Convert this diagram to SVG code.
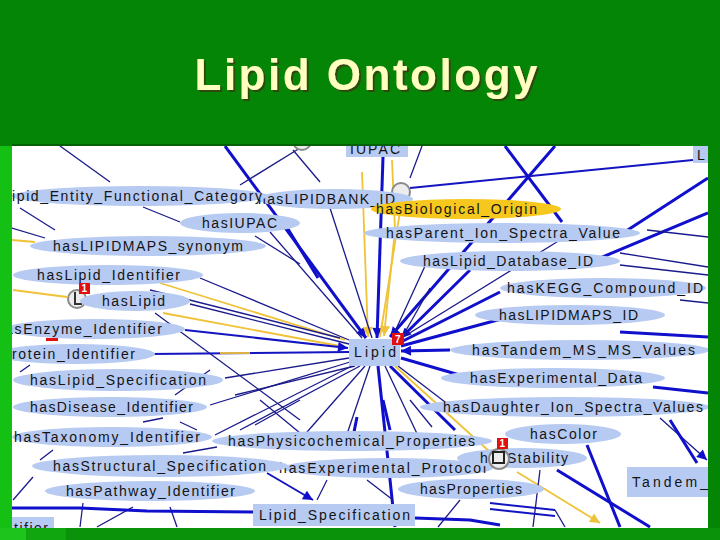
<svg xmlns="http://www.w3.org/2000/svg" width="720" height="540" viewBox="0 0 720 540">
<defs>
<style>
.e{fill:#b7caf2}
.yl{fill:#f6c81e}
.t{font-family:"Liberation Sans",Arial,sans-serif;font-size:14px;fill:#141414}
.n{stroke:#1a1a8c;stroke-width:1.3;fill:none}
.m{stroke:#1414c0;stroke-width:2;fill:none}
.b{stroke:#0f0fcc;stroke-width:3;fill:none}
.g{stroke:#f0c238;stroke-width:1.8;fill:none}
.ic{fill:#ececec;stroke:#8a8a8a;stroke-width:2}
.bd{fill:#e01010}
.bt{font-family:"Liberation Sans",Arial,sans-serif;font-size:10px;font-weight:bold;fill:#fff}
</style>
<filter id="sh" x="-5%" y="-20%" width="110%" height="140%"><feDropShadow dx="2" dy="2" stdDeviation="0.4" flood-color="#2e4a10" flood-opacity="1"/></filter>
<clipPath id="pc"><rect x="12" y="146" width="696" height="382"/></clipPath>
<marker id="ab" viewBox="0 0 10 10" refX="10" refY="5" markerWidth="12" markerHeight="10" markerUnits="userSpaceOnUse" orient="auto"><path d="M0,0 L10,5 L0,10 z" fill="#0f0fcc"/></marker>
<marker id="ay" viewBox="0 0 10 10" refX="10" refY="5" markerWidth="12" markerHeight="10" markerUnits="userSpaceOnUse" orient="auto"><path d="M0,0 L10,5 L0,10 z" fill="#f0c238"/></marker>
</defs>
<rect width="720" height="540" fill="#058505"/>
<rect x="0" y="146" width="12" height="394" fill="#14c014"/>
<rect x="0" y="528" width="26" height="12" fill="#1cc41c"/>
<rect x="26" y="528" width="40" height="12" fill="#10a610"/>
<rect x="66" y="528" width="654" height="12" fill="#0a930a"/>
<rect x="12" y="144" width="628" height="2" fill="#046004"/>
<text x="366" y="90" text-anchor="middle" font-family="Liberation Sans,Arial,sans-serif" font-size="44" font-weight="bold" fill="#ffffc0" textLength="343" lengthAdjust="spacing" filter="url(#sh)">Lipid Ontology</text>
<rect x="12" y="146" width="696" height="382" fill="#ffffff"/>

<g id="connectors" clip-path="url(#pc)">
<line class="b" x1="225" y1="146" x2="366" y2="338" marker-end="url(#ab)"/>
<line class="b" x1="383" y1="157" x2="377" y2="338" marker-end="url(#ab)"/>
<line class="b" x1="555" y1="146" x2="390" y2="337" marker-end="url(#ab)"/>
<line class="b" x1="505" y1="146" x2="562" y2="222"/>
<line class="m" x1="410" y1="188" x2="693" y2="160"/>
<line class="n" x1="410" y1="178" x2="422" y2="146"/>
<line class="n" x1="60" y1="146" x2="110" y2="182"/>
<line class="n" x1="240" y1="185" x2="300" y2="148"/>
<line class="n" x1="293" y1="150" x2="320" y2="182"/>
<line class="n" x1="20" y1="208" x2="55" y2="230"/>
<line class="n" x1="12" y1="228" x2="45" y2="238"/>
<line class="g" x1="12" y1="240" x2="35" y2="242"/>
<line class="n" x1="143" y1="207" x2="180" y2="222"/>
<line class="n" x1="255" y1="236" x2="300" y2="264"/>
<line class="b" x1="288" y1="229" x2="318" y2="278"/>
<line class="g" x1="392" y1="160" x2="395" y2="230"/>
<line class="g" x1="395" y1="230" x2="384" y2="336" marker-end="url(#ay)"/>
<line class="g" x1="362" y1="172" x2="368" y2="337" marker-end="url(#ay)"/>
<line class="g" x1="402" y1="199" x2="380" y2="337"/>
<line class="n" x1="270" y1="232" x2="362" y2="338"/>
<line class="n" x1="330" y1="208" x2="372" y2="338"/>

<line class="g" x1="13" y1="290" x2="67" y2="297"/>
<line class="n" x1="200" y1="278" x2="349" y2="340"/>
<line class="g" x1="160" y1="283" x2="345" y2="340"/>
<line class="n" x1="190" y1="304" x2="349" y2="344"/>
<line class="g" x1="163" y1="313" x2="345" y2="347"/>
<line class="m" x1="185" y1="330" x2="348" y2="348" marker-end="url(#ab)"/>
<line class="n" x1="150" y1="290" x2="340" y2="338"/>
<line class="n" x1="155" y1="313" x2="300" y2="420"/>
<line class="m" x1="150" y1="354" x2="349" y2="352"/>
<line class="g" x1="220" y1="353" x2="250" y2="353"/>
<line class="n" x1="225" y1="378" x2="349" y2="358"/>
<line class="n" x1="210" y1="405" x2="350" y2="362"/>
<line class="n" x1="215" y1="435" x2="352" y2="366"/>
<line class="n" x1="235" y1="395" x2="355" y2="366"/>
<line class="n" x1="20" y1="372" x2="30" y2="365"/>
<line class="n" x1="175" y1="395" x2="210" y2="370"/>

<line class="n" x1="425" y1="266" x2="392" y2="338"/>
<line class="b" x1="470" y1="270" x2="401" y2="338" marker-end="url(#ab)"/>
<line class="n" x1="560" y1="240" x2="400" y2="339"/>
<line class="b" x1="500" y1="292" x2="401" y2="342"/>
<line class="b" x1="505" y1="318" x2="401" y2="346"/>
<line class="b" x1="450" y1="350" x2="401" y2="351" marker-end="url(#ab)"/>
<line class="b" x1="470" y1="378" x2="401" y2="358"/>
<line class="n" x1="445" y1="402" x2="398" y2="366"/>
<line class="n" x1="430" y1="288" x2="400" y2="341"/>
<line class="b" x1="620" y1="235" x2="708" y2="178"/>
<line class="b" x1="600" y1="258" x2="708" y2="213"/>
<line class="n" x1="620" y1="253" x2="708" y2="267"/>
<line class="n" x1="647" y1="230" x2="708" y2="237"/>
<line class="n" x1="620" y1="265" x2="708" y2="275"/>
<line class="b" x1="620" y1="332" x2="708" y2="337"/>
<line class="b" x1="653" y1="387" x2="708" y2="393"/>
<line class="n" x1="680" y1="300" x2="708" y2="303"/>

<line class="b" x1="378" y1="366" x2="395" y2="527"/>
<line class="n" x1="370" y1="366" x2="345" y2="440"/>
<line class="n" x1="365" y1="366" x2="300" y2="440"/>
<line class="n" x1="385" y1="366" x2="420" y2="440"/>
<line class="b" x1="390" y1="366" x2="455" y2="430"/>
<line class="n" x1="360" y1="366" x2="240" y2="430"/>
<line class="g" x1="395" y1="366" x2="490" y2="452"/>
<line class="g" x1="517" y1="472" x2="600" y2="523" marker-end="url(#ay)"/>

<line class="n" x1="143" y1="422" x2="163" y2="418"/>
<line class="n" x1="180" y1="422" x2="197" y2="430"/>
<line class="n" x1="260" y1="400" x2="300" y2="433"/>
<line class="n" x1="300" y1="400" x2="255" y2="425"/>
<line class="b" x1="357" y1="417" x2="353" y2="437"/>
<line class="n" x1="183" y1="453" x2="217" y2="447"/>
<line class="n" x1="53" y1="450" x2="40" y2="460"/>
<line class="n" x1="33" y1="477" x2="13" y2="500"/>
<line class="m" x1="267" y1="473" x2="313" y2="500" marker-end="url(#ab)"/>
<line class="n" x1="327" y1="480" x2="317" y2="500"/>
<line class="n" x1="83" y1="503" x2="80" y2="527"/>
<line class="n" x1="133" y1="507" x2="97" y2="527"/>
<line class="n" x1="170" y1="507" x2="177" y2="527"/>
<polyline class="b" points="12,508 80,508 147,511 253,512"/>
<line class="n" x1="367" y1="480" x2="393" y2="500"/>
<line class="n" x1="410" y1="400" x2="432" y2="427"/>
<line class="b" x1="383" y1="400" x2="390" y2="430"/>

<polyline class="b" points="415,518 470,520 500,525"/>
<line class="m" x1="490" y1="503" x2="555" y2="510"/>
<line class="m" x1="490" y1="509" x2="555" y2="516"/>
<line class="n" x1="555" y1="510" x2="565" y2="527"/>
<line class="n" x1="540" y1="470" x2="533" y2="527"/>
<line class="n" x1="460" y1="500" x2="438" y2="527"/>
<line class="b" x1="587" y1="445" x2="620" y2="527"/>
<line class="b" x1="557" y1="470" x2="650" y2="527"/>
<line class="n" x1="660" y1="418" x2="707" y2="460" marker-end="url(#ab)"/>
<line class="b" x1="670" y1="420" x2="697" y2="463"/>
</g>

<g id="n_iupac" clip-path="url(#pc)"><rect class="e" x="346" y="140" width="62" height="17"/><text class="t" x="350" y="154" textLength="50" lengthAdjust="spacing">IUPAC</text></g>
<g id="n_L" clip-path="url(#pc)"><rect class="e" x="693" y="146" width="16" height="17"/><text class="t" x="697" y="160">L</text></g>
<g id="icon_top" clip-path="url(#pc)"><circle class="ic" cx="302" cy="141" r="9"/></g>
<g id="icon_bank" clip-path="url(#pc)"><circle class="ic" cx="401" cy="192" r="9"/></g>
<g id="n_lipidbank" clip-path="url(#pc)"><ellipse class="e" cx="335" cy="199" rx="78" ry="10"/><text class="t" x="258" y="204" textLength="137" lengthAdjust="spacing">hasLIPIDBANK_ID</text></g>
<g id="n_category" clip-path="url(#pc)"><ellipse class="e" cx="140" cy="196" rx="128" ry="10"/><text class="t" x="12" y="201" textLength="250" lengthAdjust="spacing">ipid_Entity_Functional_Category</text></g>
<g id="n_biological"><ellipse class="yl" cx="466" cy="209" rx="95" ry="10"/><text class="t" x="376" y="214" textLength="161" lengthAdjust="spacing">hasBiological_Origin</text></g>
<g id="n_hasiupac"><ellipse class="e" cx="240" cy="223" rx="60" ry="10"/><text class="t" x="202" y="228" textLength="75" lengthAdjust="spacing">hasIUPAC</text></g>
<g id="n_parent"><ellipse class="e" cx="502" cy="233" rx="138" ry="10"/><text class="t" x="386" y="238" textLength="234" lengthAdjust="spacing">hasParent_Ion_Spectra_Value</text></g>
<g id="n_synonym"><ellipse class="e" cx="148" cy="246" rx="118" ry="10"/><text class="t" x="53" y="251" textLength="190" lengthAdjust="spacing">hasLIPIDMAPS_synonym</text></g>
<g id="n_database"><ellipse class="e" cx="510" cy="261" rx="110" ry="10"/><text class="t" x="423" y="266" textLength="170" lengthAdjust="spacing">hasLipid_Database_ID</text></g>
<g id="n_lipidid" clip-path="url(#pc)"><ellipse class="e" cx="108" cy="275" rx="95" ry="10"/><text class="t" x="37" y="280" textLength="143" lengthAdjust="spacing">hasLipid_Identifier</text></g>
<g id="n_kegg" clip-path="url(#pc)"><ellipse class="e" cx="603" cy="288" rx="103" ry="10"/><text class="t" x="507" y="293" textLength="196" lengthAdjust="spacing">hasKEGG_Compound_ID</text></g>
<g id="icon_L"><circle class="ic" cx="77" cy="299" r="9"/><polyline points="75,292 75,304 82,304" fill="none" stroke="#333" stroke-width="2"/><rect class="bd" x="79" y="283" width="11" height="11"/><text class="bt" x="81.5" y="292">1</text></g>
<g id="n_haslipid"><ellipse class="e" cx="135" cy="301" rx="55" ry="10"/><text class="t" x="102" y="306" textLength="63" lengthAdjust="spacing">hasLipid</text></g>
<g id="n_lipidmapsid"><ellipse class="e" cx="570" cy="315" rx="95" ry="10"/><text class="t" x="499" y="320" textLength="139" lengthAdjust="spacing">hasLIPIDMAPS_ID</text></g>
<g id="n_enzyme" clip-path="url(#pc)"><ellipse class="e" cx="95" cy="329" rx="90" ry="10"/><text class="t" x="5" y="334" textLength="157" lengthAdjust="spacing">asEnzyme_Identifier</text></g>
<g id="mark_red"><rect class="bd" x="46" y="338" width="12" height="3"/></g>
<g id="n_lipid"><rect class="e" x="349" y="339" width="51" height="27"/><text class="t" x="375" y="357" text-anchor="middle" font-size="15" textLength="42" lengthAdjust="spacing">Lipid</text><rect class="bd" x="392" y="333" width="12" height="12"/><text class="bt" x="395" y="343">7</text></g>
<g id="n_tandemms" clip-path="url(#pc)"><ellipse class="e" cx="580" cy="350" rx="130" ry="10"/><text class="t" x="472" y="355" textLength="223" lengthAdjust="spacing">hasTandem_MS_MS_Values</text></g>
<g id="n_protein" clip-path="url(#pc)"><ellipse class="e" cx="75" cy="354" rx="80" ry="10"/><text class="t" x="12" y="359" textLength="123" lengthAdjust="spacing">rotein_Identifier</text></g>
<g id="n_lipidspec"><ellipse class="e" cx="118" cy="380" rx="105" ry="11"/><text class="t" x="30" y="385" textLength="176" lengthAdjust="spacing">hasLipid_Specification</text></g>
<g id="n_expdata"><ellipse class="e" cx="553" cy="378" rx="112" ry="10"/><text class="t" x="470" y="383" textLength="172" lengthAdjust="spacing">hasExperimental_Data</text></g>
<g id="n_disease"><ellipse class="e" cx="110" cy="407" rx="97" ry="10"/><text class="t" x="30" y="412" textLength="163" lengthAdjust="spacing">hasDisease_Identifier</text></g>
<g id="n_daughter" clip-path="url(#pc)"><ellipse class="e" cx="565" cy="407" rx="145" ry="10"/><text class="t" x="443" y="412" textLength="260" lengthAdjust="spacing">hasDaughter_Ion_Spectra_Values</text></g>
<g id="n_taxonomy" clip-path="url(#pc)"><ellipse class="e" cx="112" cy="437" rx="100" ry="10"/><text class="t" x="14" y="442" textLength="186" lengthAdjust="spacing">hasTaxonomy_Identifier</text></g>
<g id="n_color"><ellipse class="e" cx="563" cy="434" rx="58" ry="10"/><text class="t" x="530" y="439" textLength="67" lengthAdjust="spacing">hasColor</text></g>
<g id="n_physico"><ellipse class="e" cx="352" cy="441" rx="140" ry="10"/><text class="t" x="228" y="446" textLength="247" lengthAdjust="spacing">hasPhysicochemical_Properties</text></g>
<g id="n_expprotocol"><ellipse class="e" cx="388" cy="468" rx="105" ry="10"/><text class="t" x="279" y="473" textLength="207" lengthAdjust="spacing">hasExperimental_Protocol</text></g>
<g id="n_structural"><ellipse class="e" cx="160" cy="466" rx="128" ry="11"/><text class="t" x="53" y="471" textLength="213" lengthAdjust="spacing">hasStructural_Specification</text></g>
<g id="n_stability"><ellipse class="e" cx="522" cy="458" rx="65" ry="10"/><text class="t" x="480" y="463" textLength="88" lengthAdjust="spacing">hasStability</text></g>
<g id="icon_stab"><circle class="ic" cx="499" cy="459" r="10"/><rect x="493" y="452" width="11" height="11" fill="none" stroke="#222" stroke-width="2"/><rect class="bd" x="497" y="438" width="11" height="11"/><text class="bt" x="499.5" y="447">1</text></g>
<g id="n_tandem" clip-path="url(#pc)"><rect class="e" x="627" y="467" width="82" height="30"/><text class="t" x="632" y="487" textLength="76" lengthAdjust="spacing">Tandem_</text></g>
<g id="n_pathway"><ellipse class="e" cx="150" cy="491" rx="105" ry="10"/><text class="t" x="66" y="496" textLength="169" lengthAdjust="spacing">hasPathway_Identifier</text></g>
<g id="n_properties"><ellipse class="e" cx="471" cy="489" rx="73" ry="10"/><text class="t" x="420" y="494" textLength="102" lengthAdjust="spacing">hasProperties</text></g>
<g id="n_lipidspecclass"><rect class="e" x="253" y="504" width="162" height="22"/><text class="t" x="259" y="520" textLength="151" lengthAdjust="spacing">Lipid_Specification</text></g>
<g id="n_tifier" clip-path="url(#pc)"><rect class="e" x="12" y="517" width="42" height="14"/><text class="t" x="14" y="533" textLength="34" lengthAdjust="spacing">tifier</text></g>
</svg>
